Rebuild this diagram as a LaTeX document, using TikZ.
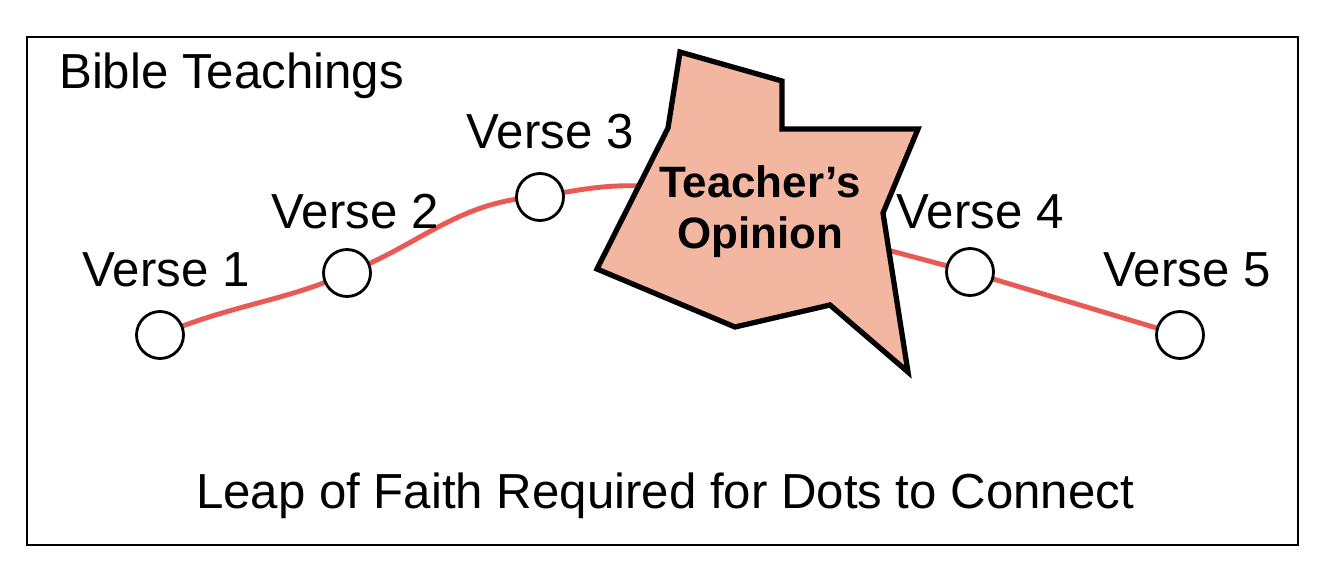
\documentclass[tikz,border=0pt]{standalone}
\usepackage{fontspec}
\setmainfont{Liberation Sans}
\begin{document}
\begin{tikzpicture}[x=0.02cm,y=-0.02cm,
  verse/.style={circle,draw,fill=white,line width=1.6pt,minimum size=0.94cm,inner sep=0pt},
  lbl/.style={font=\fontsize{28}{30}\selectfont},
  link/.style={color={rgb,255:red,234;green,90;blue,84},line width=2.8pt}]
\useasboundingbox (0,0) rectangle (1326,582);
\draw[line width=1.6pt] (27,37) rectangle (1298,545);
\node[lbl,anchor=west] (title) at (53,76) {Bible Teachings};
\node[lbl] (leap) at (665,496) {Leap of Faith Required for Dots to Connect};
\coordinate (c1) at (160,335);
\coordinate (c2) at (347,273);
\coordinate (c3) at (540,197);
\coordinate (c4) at (970,272);
\coordinate (c5) at (1180,335);
\coordinate (h) at (700,195);
\coordinate (g) at (880,248);
\draw[link] (c1) .. controls (230,305) and (290,300) .. (c2)
  .. controls (420,245) and (460,200) .. (c3)
  .. controls (600,185) and (640,180) .. (h);
\draw[link] (g) -- (c4) -- (c5);
\node[verse] (v1) at (c1) {};
\node[verse] (v2) at (c2) {};
\node[verse] (v3) at (c3) {};
\node[verse] (v4) at (c4) {};
\node[verse] (v5) at (c5) {};
\node[lbl] (l1) at (166,270) {Verse 1};
\node[lbl] (l2) at (355,212) {Verse 2};
\node[lbl] (l3) at (550,132) {Verse 3};
\node[lbl] (l4) at (980,212) {Verse 4};
\node[lbl] (l5) at (1187,270) {Verse 5};
\draw[line width=3pt,fill={rgb,255:red,243;green,182;blue,160},line join=miter]
  (680,52) -- (782,81) -- (782,129) -- (918,129) -- (883,213) -- (908,372)
  -- (830,305) -- (735,327) -- (597,269) -- (668,128) -- cycle;
\node[font=\bfseries\fontsize{25}{29}\selectfont,align=center] (op) at (760,212) {Teacher’s\\Opinion};
\end{tikzpicture}
\end{document}
